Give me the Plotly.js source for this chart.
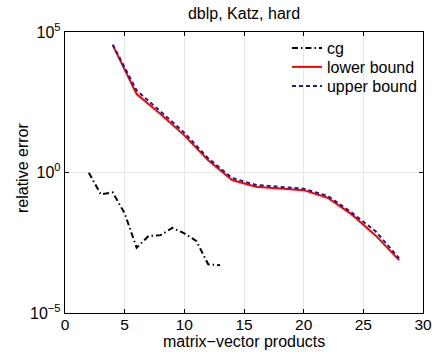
<!DOCTYPE html>
<html>
<head>
<meta charset="utf-8">
<script src="https://cdn.plot.ly/plotly-3.0.1.min.js"></script>
<style>html,body{margin:0;padding:0;background:#fff;}#plot{width:436px;height:356px;}</style>
</head>
<body>
<div id="plot"></div>
<script>
// matrix-vector products (x) and relative error (y)
const cgX = [2, 3, 4, 5, 6, 7, 8, 9, 10, 11, 12, 13];
const cgY = [0.98, 0.166, 0.195, 0.035, 0.0021, 0.0055, 0.0059, 0.0107, 0.0068, 0.0037, 0.00054, 0.0005];

const boundX = [4, 6, 8, 10, 12, 14, 16, 18, 20, 22, 24, 26, 28];
const lowerY = [34000, 620, 120, 21, 2.75, 0.54, 0.31, 0.27, 0.235, 0.126, 0.033, 0.0059, 0.00076];
const upperY = [35500, 830, 150, 26, 3.2, 0.64, 0.36, 0.30, 0.265, 0.148, 0.038, 0.0083, 0.00089];

const yTickVals = [1e-5, 1, 1e5];
const yTickText = ['10<sup>−5</sup>', '10<sup>0</sup>', '10<sup>5</sup>'];
const xTickVals = [0, 5, 10, 15, 20, 25, 30];

const FONT = 'Liberation Sans, Arial, Helvetica, sans-serif';

const traces = [
  {x: cgX, y: cgY, name: 'cg', mode: 'lines', legend: 'legend',
   line: {color: '#000000', width: 2, dash: '6px,3px,1.5px,3px'}},
  {x: boundX, y: lowerY, name: 'lower bound', mode: 'lines', legend: 'legend2',
   line: {color: '#ff0000', width: 2}},
  {x: boundX, y: upperY, name: 'upper bound', mode: 'lines', legend: 'legend3',
   line: {color: '#1c1c8e', width: 2, dash: '4px,3px'}}
];

function leg(y) {
  return {x: 0.62, y: y, xanchor: 'left', yanchor: 'top', bgcolor: 'rgba(255,255,255,0)',
          borderwidth: 0, font: {family: FONT, size: 16, color: '#000'}};
}

const layout = {
  width: 436, height: 356,
  margin: {l: 65, r: 13, t: 32, b: 43},
  paper_bgcolor: '#ffffff', plot_bgcolor: '#ffffff',
  font: {family: FONT, size: 16, color: '#000000'},
  title: {text: 'dblp, Katz, hard', font: {family: FONT, size: 16, color: '#000'},
          x: 0.5, xref: 'paper', xanchor: 'center', y: 0.963, yanchor: 'middle'},
  showlegend: true,
  legend: leg(1.003),
  legend2: leg(0.936),
  legend3: leg(0.868),
  xaxis: {range: [0, 30], tickvals: xTickVals, ticks: 'inside', ticklen: 4, tickcolor: '#000',
          showline: true, linecolor: '#000', linewidth: 1.2, mirror: 'allticks',
          showgrid: true, gridcolor: '#e6e6e6', gridwidth: 1, zeroline: false,
          ticklabelstandoff: -3,
          tickfont: {family: FONT, size: 15.5, color: '#000'}},
  yaxis: {type: 'log', range: [-5, 5], tickvals: yTickVals, ticktext: yTickText,
          ticks: 'inside', ticklen: 4, tickcolor: '#000',
          showline: true, linecolor: '#000', linewidth: 1.2, mirror: 'allticks',
          showgrid: true, gridcolor: '#e6e6e6', gridwidth: 1, zeroline: false,
          tickfont: {family: FONT, size: 16, color: '#000'}},
  annotations: [
    {text: 'matrix−vector products', xref: 'paper', yref: 'paper', x: 0.5, y: -0.1,
     xanchor: 'center', yanchor: 'middle', showarrow: false,
     font: {family: FONT, size: 16, color: '#000'}},
    {text: 'relative error', xref: 'paper', yref: 'paper', x: -0.12, y: 0.516,
     xanchor: 'center', yanchor: 'middle', showarrow: false, textangle: -90,
     font: {family: FONT, size: 16, color: '#000'}}
  ]
};

Plotly.newPlot('plot', traces, layout, {staticPlot: true, displayModeBar: false});
</script>
</body>
</html>
